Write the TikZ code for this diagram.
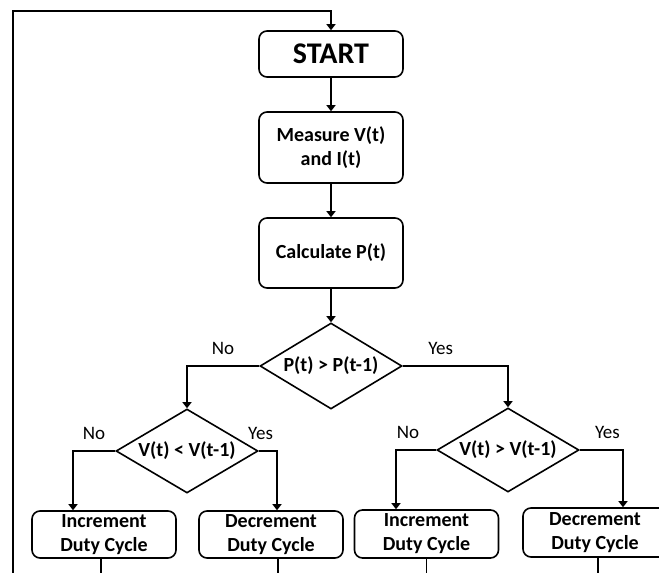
\documentclass[tikz,border=0pt]{standalone}
\usepackage{fontspec}
\setmainfont{Carlito}
\usetikzlibrary{shapes.geometric, arrows.meta, positioning, calc}

\begin{document}
\begin{tikzpicture}[
    x=1pt, y=-1pt,
    box/.style={draw, rectangle, rounded corners=8pt, line width=1.6pt, minimum width=144pt, inner sep=1pt, align=center, font=\bfseries\fontsize{20}{24}\selectfont},
    decision/.style={draw, diamond, aspect=1.65, line width=1.6pt, minimum width=142pt, minimum height=86pt, inner sep=0pt, font=\bfseries\fontsize{20}{24}\selectfont},
    flow/.style={line width=1.6pt},
    arrow/.style={-{Triangle[length=6pt, width=9pt]}, line width=1.6pt},
    answer/.style={above=7pt, font=\fontsize{19}{22}\selectfont}
]
\useasboundingbox (0,0) rectangle (659,573);

\node[box, minimum height=46pt, font=\bfseries\fontsize{30}{36}\selectfont] (start) at (331,54) {START};
\node[box, minimum height=71pt] (measure) at (331,147.5) {Measure V(t)\\and I(t)};
\node[box, minimum height=70pt] (calc) at (331,253) {Calculate P(t)};

\node[decision] (cmpP) at (331,366) {P(t) > P(t-1)};
\node[decision, minimum height=84pt] (cmpVl) at (187,451) {V(t) < V(t-1)};
\node[decision, minimum height=84pt] (cmpVr) at (508,450) {V(t) > V(t-1)};

\node[box, minimum height=47pt] (inc1) at (104,534.5) {Increment\\Duty Cycle};
\node[box, minimum height=47pt] (dec1) at (271,534.5) {Decrement\\Duty Cycle};
\node[box, minimum height=48pt] (inc2) at (426.5,534) {Increment\\Duty Cycle};
\node[box, minimum height=49pt] (dec2) at (595,532.5) {Decrement\\Duty Cycle};

% loop back to start
\coordinate (loopin) at (13,590);
\coordinate (looptop) at (331,11);
\draw[arrow] (loopin) |- (looptop) -- (start);

\draw[arrow] (start) -- (measure);
\draw[arrow] (measure) -- (calc);
\draw[arrow] (calc) -- (cmpP);

\draw[arrow] (cmpP.west) -| node[answer, pos=0.25] {No} (cmpVl.north);
\draw[arrow] (cmpP.east) -| node[answer, pos=0.18] {Yes} (cmpVr.north);

\draw[arrow] (cmpVl.west) -| node[answer, pos=0.25] {No} ($(inc1.north)+(-31,0)$);
\draw[arrow] (cmpVl.east) -| node[answer, pos=0.05] {Yes} ($(dec1.north)+(6,0)$);
\draw[arrow] (cmpVr.west) -| node[answer, pos=0.35] {No} ($(inc2.north)+(-30.5,0)$);
\draw[arrow] (cmpVr.east) -| node[answer, pos=0.32] {Yes} ($(dec2.north)+(28,0)$);

% outputs running off the bottom
\draw[flow] ($(inc1.south)+(-3,0)$) -- ++(0,30);
\draw[flow] ($(dec1.south)+(7,0)$) -- ++(0,30);
\draw[flow] (inc2.south) -- ++(0,30);
\draw[flow] ($(dec2.south)+(3,0)$) -- ++(0,30);

\end{tikzpicture}
\end{document}
